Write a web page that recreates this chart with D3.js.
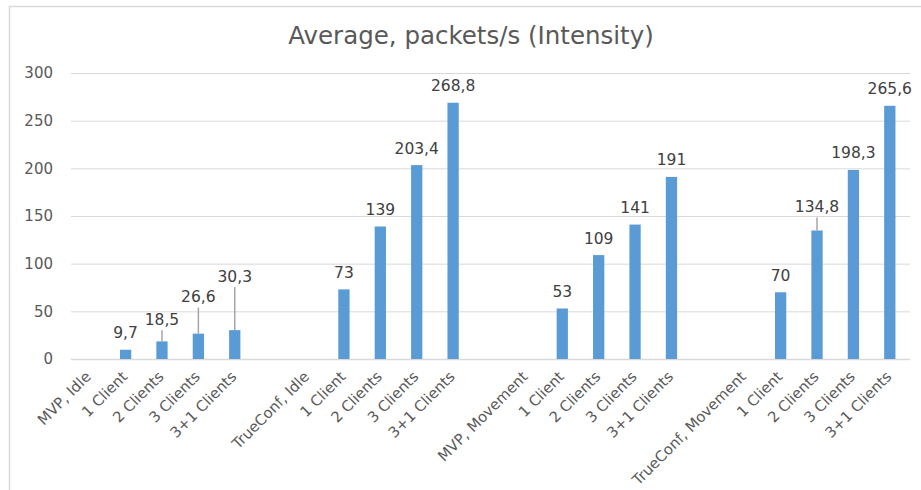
<!DOCTYPE html>
<html>
<head>
<meta charset="utf-8">
<script src="https://cdn.jsdelivr.net/npm/d3@7"></script>
<style>
  html, body { margin: 0; padding: 0; background: #fff; }
  svg { display: block; }
</style>
</head>
<body>
<svg id="chart" width="921" height="490"></svg>
<script>
// ---- data ----
const title = "Average, packets/s (Intensity)";
const categories = [
  "MVP, Idle", "1 Client", "2 Clients", "3 Clients", "3+1 Clients", "",
  "TrueConf, Idle", "1 Client", "2 Clients", "3 Clients", "3+1 Clients", "",
  "MVP, Movement", "1 Client", "2 Clients", "3 Clients", "3+1 Clients", "",
  "TrueConf, Movement", "1 Client", "2 Clients", "3 Clients", "3+1 Clients"
];
const values = [
  null, 9.7, 18.5, 26.6, 30.3, null,
  null, 73, 139, 203.4, 268.8, null,
  null, 53, 109, 141, 191, null,
  null, 70, 134.8, 198.3, 265.6
];
const valueLabels = [
  "", "9,7", "18,5", "26,6", "30,3", "",
  "", "73", "139", "203,4", "268,8", "",
  "", "53", "109", "141", "191", "",
  "", "70", "134,8", "198,3", "265,6"
];
const yTicks = [0, 50, 100, 150, 200, 250, 300];

// ---- layout / style (not data) ----
// extra upward shift (px) of manually moved data labels, with leader lines
const labelLift = {2: 5, 3: 20, 4: 37, 20: 7};
const font = "'DejaVu Sans', Verdana, sans-serif";
const barColor = "#5B9BD5";
const textColor = "#595959";
const gridColor = "#D9D9D9";

const svg = d3.select("#chart");
const plot = {left: 71, right: 908, top: 73, bottom: 359};

const x = d3.scaleBand()
  .domain(d3.range(categories.length))
  .range([plot.left, plot.right])
  .paddingInner(0.69)
  .paddingOuter(0.345);
const y = d3.scaleLinear().domain([0, 300]).range([plot.bottom, plot.top]);

// frame
svg.append("path")
  .attr("d", `M9.5,490 V6.5 H921`)
  .attr("fill", "none").attr("stroke", gridColor).attr("stroke-width", 1.5);

// title
svg.append("text")
  .attr("x", 471).attr("y", 44)
  .attr("text-anchor", "middle")
  .attr("font-family", font).attr("font-size", 24.5)
  .attr("fill", textColor)
  .text(title);

// y axis (gridlines + labels)
const yAxis = d3.axisLeft(y).tickValues(yTicks)
  .tickSize(-(plot.right + 2 - plot.left)).tickPadding(18)
  .tickFormat(d3.format("d"));
const gy = svg.append("g").attr("transform", `translate(${plot.left},0)`).call(yAxis);
gy.select(".domain").remove();
gy.selectAll(".tick line").attr("stroke", gridColor).attr("stroke-width", 1);
gy.selectAll(".tick text")
  .attr("font-family", font).attr("font-size", 15).attr("fill", textColor);

// x axis labels
const xAxis = d3.axisBottom(x).tickSize(0).tickFormat(i => categories[i]);
const gx = svg.append("g").attr("transform", `translate(0,${plot.bottom})`).call(xAxis);
gx.select(".domain").attr("stroke", gridColor).attr("stroke-width", 1.5)
  .attr("d", `M${plot.left},0.5H${plot.right + 2}`);
gx.selectAll(".tick text")
  .attr("font-family", font).attr("font-size", 14.8).attr("fill", textColor)
  .attr("text-anchor", "end")
  .attr("dy", "0.35em")
  .attr("transform", "translate(-1,15) rotate(-45)")
  .attr("y", 0).attr("x", 0);

// bars
const idx = d3.range(values.length).filter(i => values[i] !== null);
svg.append("g").selectAll("rect").data(idx).join("rect")
  .attr("x", i => x(i))
  .attr("y", i => y(values[i]))
  .attr("width", x.bandwidth())
  .attr("height", i => y(0) - y(values[i]))
  .attr("fill", barColor);

// leader lines
svg.append("g").selectAll("line")
  .data(idx.filter(i => (labelLift[i] || 0) > 0))
  .join("line")
  .attr("x1", i => x(i) + x.bandwidth() / 2)
  .attr("x2", i => x(i) + x.bandwidth() / 2)
  .attr("y1", i => y(values[i]))
  .attr("y2", i => y(values[i]) - 17 - labelLift[i] + 11)
  .attr("stroke", "#A6A6A6").attr("stroke-width", 1.5);

// data labels
svg.append("g").selectAll("text").data(idx).join("text")
  .attr("x", i => x(i) + x.bandwidth() / 2)
  .attr("y", i => y(values[i]) - 17 - (labelLift[i] || 0))
  .attr("dy", "0.35em")
  .attr("text-anchor", "middle")
  .attr("font-family", font).attr("font-size", 15.5)
  .attr("fill", "#404040")
  .text(i => valueLabels[i]);
</script>
</body>
</html>
